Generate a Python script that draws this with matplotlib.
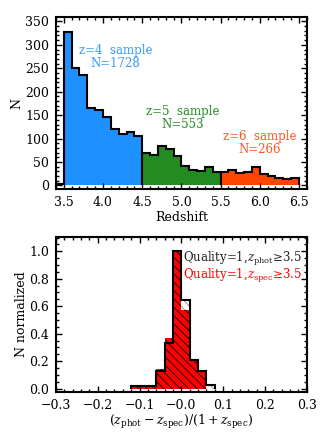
import matplotlib
matplotlib.use("Agg")
import matplotlib.pyplot as plt
import numpy as np
from matplotlib.ticker import MultipleLocator, FixedLocator, FixedFormatter

plt.rcParams["font.family"] = ["DejaVu Serif"]
plt.rcParams["mathtext.fontset"] = "dejavuserif"
plt.rcParams["hatch.linewidth"] = 0.6

# top panel: redshift histogram, bins of 0.1
z_edges_start = 3.4
z_binw = 0.1
low_counts = [3]  # 3.4-3.5
z4_counts = [328, 250, 235, 165, 161, 145, 121, 110, 113, 106]
z5_counts = [70, 65, 85, 77, 63, 42, 34, 31, 40, 29]
z6_counts = [29, 33, 26, 28, 40, 25, 20, 15, 13, 15]
z_labels = ["z=4  sample\nN=1728", "z=5  sample\nN=553", "z=6  sample\nN=266"]

# bottom panel: normalized (zphot-zspec)/(1+zspec), bins of 0.02
dz_edges = [-0.12, -0.10, -0.08, -0.06, -0.04, -0.02, 0.0, 0.02, 0.04, 0.06, 0.08]
phot_norm = [0.02, 0.02, 0.02, 0.125, 0.33, 1.0, 0.645, 0.21, 0.13, 0.025]
spec_norm = [0.02, 0.02, 0.02, 0.145, 0.37, 1.0, 0.57, 0.21, 0.13, 0.0]
dz_ticks = [-0.3, -0.2, -0.1, 0.0, 0.1, 0.2, 0.3]
dz_ticklabels = ["\u22120.3", "\u22120.2", "\u22120.1", "\u22120.0", "0.1", "0.2", "0.3"]

BLUE = "#1e90ff"
GREEN = "#228b22"
ORANGE = "#ff4500"
FS = 9      # ticks and axis labels
FS_TXT = 8.5  # annotations


def idl_axes(ax):
    for s in ax.spines.values():
        s.set_linewidth(1.5)
    ax.tick_params(which="both", direction="in", top=True, right=True,
                   labelsize=FS, width=1.0, pad=5)
    ax.tick_params(which="major", length=4)
    ax.tick_params(which="minor", length=2)


fig = plt.figure(figsize=(3.31, 4.41), dpi=100)

# ---- top panel
ax1 = fig.add_axes([0.169, 0.571, 0.758, 0.39])
groups = [(low_counts, "white"), (z4_counts, BLUE), (z5_counts, GREEN), (z6_counts, ORANGE)]
start = z_edges_start
for counts, col in groups:
    edges = start + z_binw * np.arange(len(counts) + 1)
    ax1.stairs(counts, edges, fill=True, color=col)
    ax1.stairs(counts, edges, baseline=0, color="k", lw=1.5)
    start = edges[-1]

ax1.text(4.16, 274, z_labels[0], color="#3399ff", fontsize=FS_TXT,
         ha="center", va="center", linespacing=1.0)
ax1.text(5.02, 143, z_labels[1], color=GREEN, fontsize=FS_TXT,
         ha="center", va="center", linespacing=1.0)
ax1.text(6.0, 90, z_labels[2], color="#ff5522", fontsize=FS_TXT,
         ha="center", va="center", linespacing=1.0)

ax1.set_xlim(3.4, 6.6)
ax1.set_ylim(-8, 359)
ax1.xaxis.set_major_locator(MultipleLocator(0.5))
ax1.xaxis.set_minor_locator(MultipleLocator(0.1))
ax1.yaxis.set_major_locator(MultipleLocator(50))
ax1.yaxis.set_minor_locator(MultipleLocator(10))
ax1.set_xlabel("Redshift", fontsize=FS, labelpad=1)
ax1.set_ylabel("N", fontsize=FS, labelpad=1)
idl_axes(ax1)

# ---- bottom panel
ax2 = fig.add_axes([0.169, 0.111, 0.758, 0.352])
ax2.stairs(phot_norm, dz_edges, fill=True, facecolor="white",
           edgecolor="#888888", hatch="\\\\\\\\", lw=0)
ax2.stairs(spec_norm, dz_edges, fill=True, facecolor="red",
           edgecolor="black", hatch="\\\\\\\\", lw=0)
ax2.stairs(phot_norm, dz_edges, baseline=0, color="k", lw=1.5)

ax2.text(0.288, 0.94, r"Quality=1,$z_{\rm phot}$≥3.5", color="#222222",
         fontsize=FS_TXT, ha="right", va="center")
ax2.text(0.288, 0.82, r"Quality=1,$z_{\rm spec}$≥3.5", color="red",
         fontsize=FS_TXT, ha="right", va="center")

ax2.set_xlim(-0.3, 0.3)
ax2.set_ylim(-0.025, 1.105)
ax2.xaxis.set_major_locator(FixedLocator(dz_ticks))
ax2.xaxis.set_major_formatter(FixedFormatter(dz_ticklabels))
ax2.xaxis.set_minor_locator(MultipleLocator(0.02))
ax2.yaxis.set_major_locator(MultipleLocator(0.2))
ax2.yaxis.set_minor_locator(MultipleLocator(0.05))
ax2.set_xlabel(r"$(z_{\rm phot}-z_{\rm spec})/(1+z_{\rm spec})$", fontsize=FS, labelpad=1)
ax2.set_ylabel("N normalized", fontsize=FS, labelpad=1)
idl_axes(ax2)

fig.savefig("out.png", dpi=100)
